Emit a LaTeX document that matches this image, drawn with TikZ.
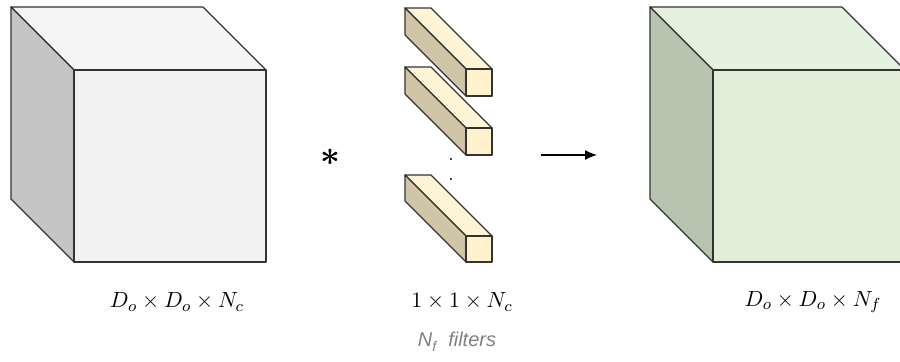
\documentclass[tikz,border=0pt]{standalone}
\usepackage{fontspec}
\usetikzlibrary{arrows.meta}
\newfontfamily\labelsans{Liberation Sans}
\definecolor{edge}{HTML}{333333}
\definecolor{grayfront}{HTML}{F2F2F2}
\definecolor{graytop}{HTML}{F5F5F5}
\definecolor{grayside}{HTML}{C5C5C5}
\definecolor{greenfront}{HTML}{E1EED9}
\definecolor{greentop}{HTML}{E6F2E0}
\definecolor{greenside}{HTML}{B7C4AF}
\definecolor{yelfront}{HTML}{FFF2CC}
\definecolor{yeltop}{HTML}{FFF4D6}
\definecolor{yelside}{HTML}{D0C5A6}
\definecolor{filtgray}{HTML}{808080}
% front-top-left x, y, width, height, depth, front, top, side
\newcommand\drawcuboid[8]{%
  \draw[facestyle, fill=#7] (#1,#2) -- ++(-#5,-#5) -- ++(#3,0) -- ++(#5,#5) -- cycle;
  \draw[facestyle, fill=#8] (#1,#2) -- ++(-#5,-#5) -- ++(0,#4) -- ++(#5,#5) -- cycle;
  \draw[facestyle, fill=#6] (#1,#2) rectangle ++(#3,#4);
}
\tikzset{
  facestyle/.style={draw=edge, line width=0.6pt, line join=round},
  mathlabel/.style={inner sep=0pt, font=\fontsize{11}{13}\selectfont},
  filterlabel/.style={inner sep=0pt, text=filtgray, font=\labelsans\itshape\fontsize{10}{12}\selectfont},
  flowarrow/.style={-{Latex[length=6pt,width=5pt]}, line width=0.7pt},
}
\begin{document}
\begin{tikzpicture}[x=0.5pt,y=-0.5pt]
\useasboundingbox (0,0) rectangle (900,361);
\clip (0,0) rectangle (900,361);
% input volume
\drawcuboid{74}{70}{192}{192}{63}{grayfront}{graytop}{grayside}
% filters
\drawcuboid{466}{69}{26}{27}{61}{yelfront}{yeltop}{yelside}
\drawcuboid{466}{128}{26}{27}{61}{yelfront}{yeltop}{yelside}
\drawcuboid{466}{236}{26}{26}{61}{yelfront}{yeltop}{yelside}
\fill (451,159) circle (1.1);
\fill (451,179) circle (1.1);
% output volume
\drawcuboid{713}{70}{192}{192}{63}{greenfront}{greentop}{greenside}
% operator and arrow
\node[inner sep=0pt, font=\LARGE\boldmath] (star) at (330,157) {$\ast$};
\coordinate (arrowA) at (541,155);
\coordinate (arrowB) at (597,155);
\draw[flowarrow] (arrowA) -- (arrowB);
% labels
\node[mathlabel] (lblin) at (177,302) {$D_o \times D_o \times N_c$};
\node[mathlabel] (lblfilt) at (462,302) {$1 \times 1 \times N_c$};
\node[mathlabel] (lblout) at (813,302) {$D_o \times D_o \times N_f$};
\node[filterlabel] (lblnf) at (457,342) {N\raisebox{-0.45ex}{\scriptsize f}\hspace{0.6em}filters};
\end{tikzpicture}
\end{document}
